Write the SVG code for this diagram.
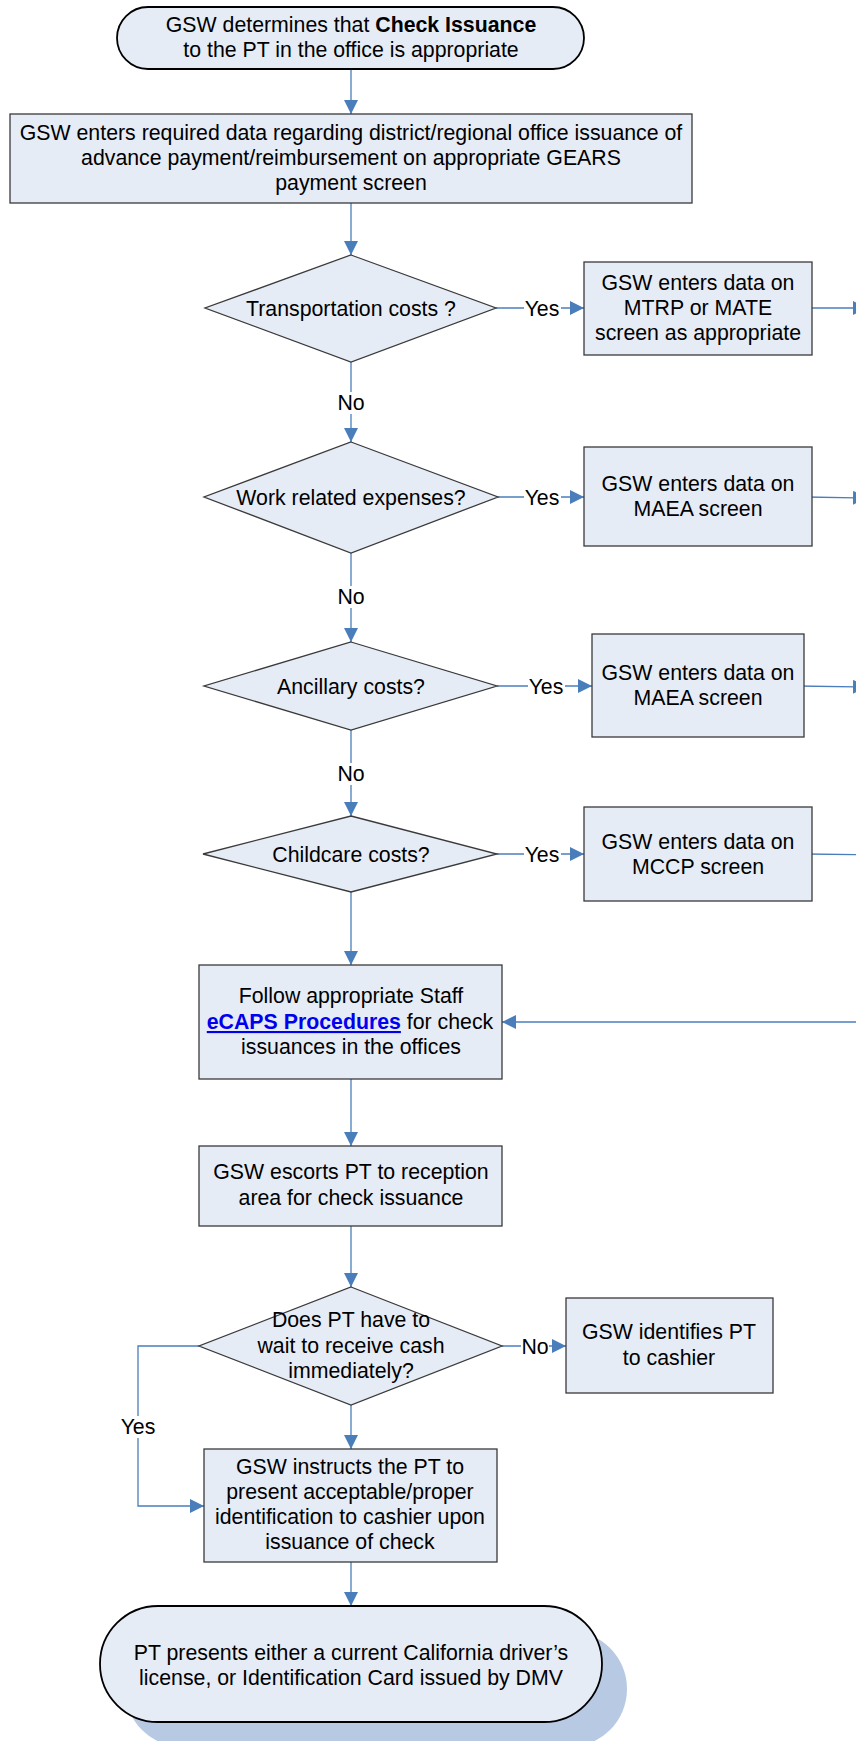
<svg xmlns="http://www.w3.org/2000/svg" width="856" height="1741" viewBox="0 0 856 1741">
  <defs>
    <style>
      .box { fill: #e6ecf6; stroke: #3a3a3a; stroke-width: 1.3; }
      .term { fill: #e6ecf6; stroke: #000000; stroke-width: 1.8; }
      .shadow { fill: #b8c9e3; }
      .t { font-family: "Liberation Sans", Arial, sans-serif; font-size: 21.3px; fill: #000000; text-anchor: middle; }
      .b { font-weight: bold; }
      .link { font-weight: bold; fill: #0000ee; text-decoration: underline; }
      .conn { fill: none; stroke: #4a7ebb; stroke-width: 1.3; }
      .lblbg { fill: #ffffff; }
    </style>
    <marker id="arrow" markerUnits="userSpaceOnUse" markerWidth="14" markerHeight="14" refX="14" refY="7" orient="auto">
      <path d="M0,0 L14,7 L0,14 z" fill="#4a7ebb"/>
    </marker>
  </defs>

  <rect width="856" height="1741" fill="#ffffff"/>

  <!-- connectors -->
  <g id="connectors">
    <path class="conn" d="M351,69 L351,114" marker-end="url(#arrow)"/>
    <path class="conn" d="M351,203 L351,255" marker-end="url(#arrow)"/>
    <path class="conn" d="M496,308 L584,308" marker-end="url(#arrow)"/>
    <path class="conn" d="M812,308 L867,308" marker-end="url(#arrow)"/>
    <path class="conn" d="M351,362 L351,442" marker-end="url(#arrow)"/>
    <path class="conn" d="M498,497 L584,497" marker-end="url(#arrow)"/>
    <path class="conn" d="M806,497 L867,498" marker-end="url(#arrow)"/>
    <path class="conn" d="M351,553 L351,642" marker-end="url(#arrow)"/>
    <path class="conn" d="M497,686 L592,686" marker-end="url(#arrow)"/>
    <path class="conn" d="M798,686 L867,687" marker-end="url(#arrow)"/>
    <path class="conn" d="M351,730 L351,816" marker-end="url(#arrow)"/>
    <path class="conn" d="M497,854 L584,854" marker-end="url(#arrow)"/>
    <path class="conn" d="M806,854 L880,855" marker-end="url(#arrow)"/>
    <path class="conn" d="M351,892 L351,965" marker-end="url(#arrow)"/>
    <path class="conn" d="M870,1022 L502,1022" marker-end="url(#arrow)"/>
    <path class="conn" d="M351,1079 L351,1146" marker-end="url(#arrow)"/>
    <path class="conn" d="M351,1226 L351,1287" marker-end="url(#arrow)"/>
    <path class="conn" d="M502,1346 L566,1346" marker-end="url(#arrow)"/>
    <path class="conn" d="M199,1346 L138,1346 L138,1506 L204,1506" marker-end="url(#arrow)"/>
    <path class="conn" d="M351,1405 L351,1449" marker-end="url(#arrow)"/>
    <path class="conn" d="M351,1562 L351,1606" marker-end="url(#arrow)"/>

    <!-- branch labels -->
    <rect class="lblbg" x="524" y="298" width="37" height="20"/>
    <text class="t" x="542" y="315.5">Yes</text>
    <rect class="lblbg" x="337" y="392" width="28" height="22"/>
    <text class="t" x="351" y="410">No</text>
    <rect class="lblbg" x="524" y="487" width="37" height="20"/>
    <text class="t" x="542" y="504.5">Yes</text>
    <rect class="lblbg" x="337" y="586" width="28" height="22"/>
    <text class="t" x="351" y="604">No</text>
    <rect class="lblbg" x="528" y="676" width="37" height="20"/>
    <text class="t" x="546" y="693.5">Yes</text>
    <rect class="lblbg" x="337" y="763" width="28" height="22"/>
    <text class="t" x="351" y="781">No</text>
    <rect class="lblbg" x="524" y="844" width="37" height="20"/>
    <text class="t" x="542" y="861.5">Yes</text>
    <rect class="lblbg" x="521" y="1336" width="28" height="20"/>
    <text class="t" x="535" y="1353.5">No</text>
    <rect class="lblbg" x="120" y="1416" width="37" height="22"/>
    <text class="t" x="138" y="1434">Yes</text>
  </g>

  <!-- start -->
  <g id="start">
    <rect class="term" x="117" y="7" width="467" height="62" rx="31" ry="31"/>
    <text class="t" x="351" y="32">GSW determines that <tspan class="b">Check Issuance</tspan></text>
    <text class="t" x="351" y="57">to the PT in the office is appropriate</text>
  </g>

  <g id="enter-data">
    <rect class="box" x="10" y="114" width="682" height="89"/>
    <text class="t" x="351" y="140">GSW enters required data regarding district/regional office issuance of</text>
    <text class="t" x="351" y="165">advance payment/reimbursement on appropriate GEARS</text>
    <text class="t" x="351" y="190">payment screen</text>
  </g>

  <g id="q-transportation">
    <polygon class="box" points="351,255 496,308 351,362 205,308"/>
    <text class="t" x="351" y="315.5">Transportation costs ?</text>
  </g>
  <g id="mtrp-mate">
    <rect class="box" x="584" y="262" width="228" height="93"/>
    <text class="t" x="698" y="290">GSW enters data on</text>
    <text class="t" x="698" y="315">MTRP or MATE</text>
    <text class="t" x="698" y="340">screen as appropriate</text>
  </g>

  <g id="q-work">
    <polygon class="box" points="351,442 498,497 351,553 204,497"/>
    <text class="t" x="351" y="504.5">Work related expenses?</text>
  </g>
  <g id="maea-1">
    <rect class="box" x="584" y="447" width="228" height="99"/>
    <text class="t" x="698" y="491">GSW enters data on</text>
    <text class="t" x="698" y="516">MAEA screen</text>
  </g>

  <g id="q-ancillary">
    <polygon class="box" points="351,642 497,686 351,730 204,686"/>
    <text class="t" x="351" y="693.5">Ancillary costs?</text>
  </g>
  <g id="maea-2">
    <rect class="box" x="592" y="634" width="212" height="103"/>
    <text class="t" x="698" y="680">GSW enters data on</text>
    <text class="t" x="698" y="705">MAEA screen</text>
  </g>

  <g id="q-childcare">
    <polygon class="box" points="351,816 497,854 351,892 203,854"/>
    <text class="t" x="351" y="861.5">Childcare costs?</text>
  </g>
  <g id="mccp">
    <rect class="box" x="584" y="807" width="228" height="94"/>
    <text class="t" x="698" y="849">GSW enters data on</text>
    <text class="t" x="698" y="874">MCCP screen</text>
  </g>

  <g id="follow-procedures">
    <rect class="box" x="199" y="965" width="303" height="114"/>
    <text class="t" x="351" y="1003">Follow appropriate Staff</text>
    <text class="t" x="350" y="1029"><tspan class="link">eCAPS Procedures</tspan> for check</text>
    <text class="t" x="351" y="1054">issuances in the offices</text>
  </g>

  <g id="escort">
    <rect class="box" x="199" y="1146" width="303" height="80"/>
    <text class="t" x="351" y="1179">GSW escorts PT to reception</text>
    <text class="t" x="351" y="1205">area for check issuance</text>
  </g>

  <g id="q-wait">
    <polygon class="box" points="351,1287 502,1346 351,1405 199,1346"/>
    <text class="t" x="351" y="1327">Does PT have to</text>
    <text class="t" x="351" y="1353">wait to receive cash</text>
    <text class="t" x="351" y="1378">immediately?</text>
  </g>

  <g id="identify-pt">
    <rect class="box" x="566" y="1298" width="207" height="95"/>
    <text class="t" x="669" y="1339">GSW identifies PT</text>
    <text class="t" x="669" y="1365">to cashier</text>
  </g>

  <g id="instruct-pt">
    <rect class="box" x="204" y="1449" width="293" height="113"/>
    <text class="t" x="350" y="1474">GSW instructs the PT to</text>
    <text class="t" x="350" y="1499">present acceptable/proper</text>
    <text class="t" x="350" y="1524">identification to cashier upon</text>
    <text class="t" x="350" y="1549">issuance of check</text>
  </g>

  <!-- end -->
  <g id="end">
    <rect class="shadow" x="125" y="1631" width="502" height="116" rx="58" ry="58"/>
    <rect class="term" x="100" y="1606" width="502" height="116" rx="58" ry="58"/>
    <text class="t" x="351" y="1660">PT presents either a current California driver’s</text>
    <text class="t" x="351" y="1685">license, or Identification Card issued by DMV</text>
  </g>
</svg>
